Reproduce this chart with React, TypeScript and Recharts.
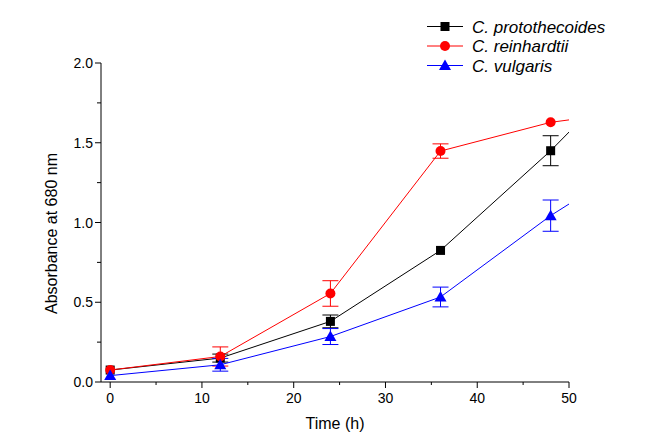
import React from 'react';
import { ComposedChart, Line, XAxis, YAxis, ErrorBar, Label } from 'recharts';

const FONT = '"Liberation Sans", Arial, sans-serif';

// sampling time (h); the last point lies past the axis end and is clipped
const time = [0, 12, 24, 36, 48, 60];
const protothecoides = [0.075, 0.15, 0.38, 0.825, 1.45, 2.15];
const protothecoidesErr = [0, 0.025, 0.04, 0, 0.094, 0];
const reinhardtii = [0.075, 0.16, 0.555, 1.448, 1.628, 1.72];
const reinhardtiiErr = [0, 0.06, 0.08, 0.045, 0, 0];
const vulgaris = [0.04, 0.108, 0.285, 0.533, 1.043, 1.48];
const vulgarisErr = [0, 0.04, 0.05, 0.062, 0.098, 0];

const xTicks = [0, 5, 10, 15, 20, 25, 30, 35, 40, 45, 50];
const yTicks = [0, 0.25, 0.5, 0.75, 1, 1.25, 1.5, 1.75, 2];

const data = time.map((t, i) => ({
  t,
  pro: protothecoides[i],
  proErr: protothecoidesErr[i],
  rei: reinhardtii[i],
  reiErr: reinhardtiiErr[i],
  vul: vulgaris[i],
  vulErr: vulgarisErr[i],
}));

const series = [
  { key: 'pro', err: 'proErr', name: 'C. protothecoides', color: '#000000', shape: 'square' },
  { key: 'rei', err: 'reiErr', name: 'C. reinhardtii', color: '#ff0000', shape: 'circle' },
  { key: 'vul', err: 'vulErr', name: 'C. vulgaris', color: '#0000ff', shape: 'triangle' },
];

const Marker = ({ cx, cy, shape, color }: any) => {
  if (shape === 'square') return <rect x={cx - 4.5} y={cy - 4.5} width={9} height={9} fill={color} />;
  if (shape === 'circle') return <circle cx={cx} cy={cy} r={5} fill={color} />;
  return <path d={`M${cx},${cy - 6} L${cx + 6},${cy + 4.5} L${cx - 6},${cy + 4.5} Z`} fill={color} />;
};

const makeDot = (shape: string, color: string) => (props: any) => {
  const { cx, cy, payload, index } = props;
  if (payload.t > 50 || cx == null) return <g key={index} />;
  return <Marker key={index} cx={cx} cy={cy} shape={shape} color={color} />;
};

const XTick = ({ x, y, payload }: any) => {
  const major = payload.value % 10 === 0;
  return (
    <g>
      <line x1={x} x2={x} y1={y} y2={y + (major ? 6 : 3)} stroke="#000" />
      {major && (
        <text x={x} y={y + 21} textAnchor="middle" fontSize={14} fontFamily={FONT} fill="#000">
          {payload.value}
        </text>
      )}
    </g>
  );
};

const YTick = ({ x, y, payload }: any) => {
  const major = (payload.value * 2) % 1 === 0;
  return (
    <g>
      <line x1={x - (major ? 6 : 4)} x2={x} y1={y} y2={y} stroke="#000" />
      {major && (
        <text x={x - 8} y={y + 5} textAnchor="end" fontSize={14} fontFamily={FONT} fill="#000">
          {payload.value.toFixed(1)}
        </text>
      )}
    </g>
  );
};

const LegendBox = () => (
  <svg width={220} height={70} style={{ position: 'absolute', left: 420, top: 14 }}>
    {series.map((s, i) => {
      const y = 12.5 + i * 19.5;
      return (
        <g key={s.key}>
          <line x1={7} x2={43} y1={y} y2={y} stroke={s.color} strokeWidth={1} />
          <Marker cx={25} cy={y} shape={s.shape} color={s.color} />
          <text x={52} y={y + 6} fontSize={17} fontStyle="italic" fontFamily={FONT} fill="#000">
            {s.name}
          </text>
        </g>
      );
    })}
  </svg>
);

export default function App() {
  return (
    <div style={{ position: 'absolute', left: 0, top: 0, width: 648, height: 448, background: '#fff' }}>
      <ComposedChart width={648} height={448} data={data} margin={{ top: 63, right: 79, bottom: 0, left: 0 }}>
        <XAxis
          dataKey="t"
          type="number"
          domain={[-1, 50]}
          allowDataOverflow
          ticks={xTicks}
          interval={0}
          tick={<XTick />}
          tickLine={false}
          tickSize={0}
          tickMargin={0}
          stroke="#000"
          height={66}
        >
          <Label
            content={({ viewBox }: any) => (
              <text x={viewBox.x + viewBox.width / 2} y={viewBox.y + 47} textAnchor="middle" fontSize={16} fontFamily={FONT} fill="#000">
                Time (h)
              </text>
            )}
          />
        </XAxis>
        <YAxis
          type="number"
          domain={[0, 2]}
          allowDataOverflow
          ticks={yTicks}
          interval={0}
          tick={<YTick />}
          tickLine={false}
          tickSize={0}
          tickMargin={0}
          stroke="#000"
          width={101}
        >
          <Label
            content={({ viewBox }: any) => {
              const cx = 57;
              const cy = viewBox.y + viewBox.height / 2 + 11;
              return (
                <text x={cx} y={cy} transform={`rotate(-90 ${cx} ${cy})`} textAnchor="middle" fontSize={16} fontFamily={FONT} fill="#000">
                  Absorbance at 680 nm
                </text>
              );
            }}
          />
        </YAxis>
        {series.map((s) => (
          <Line
            key={s.key}
            dataKey={s.key}
            name={s.name}
            type="linear"
            stroke={s.color}
            strokeWidth={1}
            dot={makeDot(s.shape, s.color)}
            activeDot={false}
            isAnimationActive={false}
          >
            <ErrorBar dataKey={s.err} width={8} stroke={s.color} strokeWidth={1} direction="y" isAnimationActive={false} />
          </Line>
        ))}
      </ComposedChart>
      <LegendBox />
    </div>
  );
}
